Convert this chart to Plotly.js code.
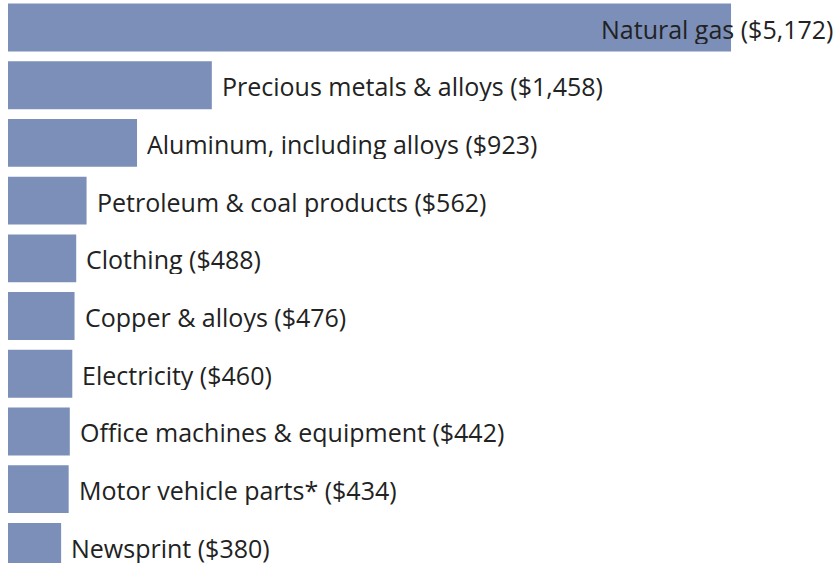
<!DOCTYPE html>
<html>
<head>
<meta charset="utf-8">
<script src="https://cdn.plot.ly/plotly-3.0.1.min.js"></script>
<style>html,body{margin:0;padding:0;background:#fff;}#chart{width:837px;height:563px;}</style>
</head>
<body>
<div id="chart"></div>
<script>
var categories = ["Natural gas", "Precious metals & alloys", "Aluminum, including alloys", "Petroleum & coal products", "Clothing", "Copper & alloys", "Electricity", "Office machines & equipment", "Motor vehicle parts*", "Newsprint"];
var values = [5172, 1458, 923, 562, 488, 476, 460, 442, 434, 380];

function fmt(v){ return "$" + v.toLocaleString("en-US"); }

var trace = {
  type: "bar",
  orientation: "h",
  y: categories,
  x: values,
  marker: {color: "#7b8fb8"},
  hoverinfo: "none"
};

var annotations = categories.map(function(c, i){
  var a = {
    xref: "x", yref: "y", x: values[i], y: c,
    text: c + " (" + fmt(values[i]) + ")",
    showarrow: false, xanchor: "left", yanchor: "middle",
    xshift: 9, yshift: -1, height: 30, borderpad: 0,
    font: {family: "Open Sans, sans-serif", size: 25, color: "#222"}
  };
  if (i === 0) { a.xref = "paper"; a.x = 1; a.xanchor = "right"; a.xshift = -3; }
  return a;
});

var layout = {
  width: 837, height: 563,
  margin: {l: 0, r: 0, t: 0, b: 0},
  paper_bgcolor: "#fff", plot_bgcolor: "#fff",
  showlegend: false,
  bargap: 0.17,
  xaxis: {range: [-57.2, 5930], showgrid: false, zeroline: false, showticklabels: false, showline: false},
  yaxis: {type: "category", range: [9.28, -0.477], showgrid: false, zeroline: false, showticklabels: false, showline: false},
  annotations: annotations
};

Plotly.newPlot("chart", [trace], layout, {displayModeBar: false, staticPlot: true});
</script>
</body>
</html>
